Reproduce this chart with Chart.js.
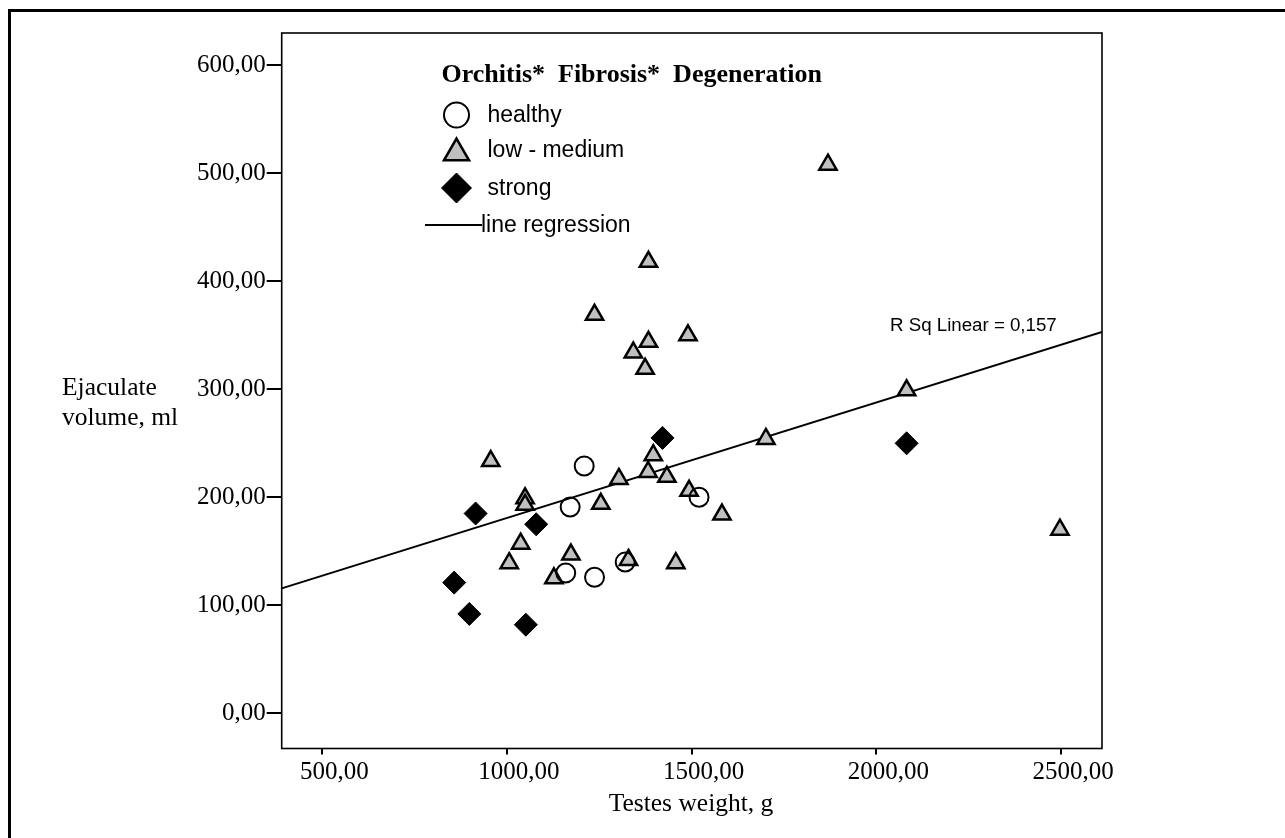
<!DOCTYPE html>
<html>
<head>
<meta charset="utf-8">
<script src="https://cdn.jsdelivr.net/npm/chart.js@4/dist/chart.umd.min.js"></script>
<style>
  html, body { margin: 0; padding: 0; background: #fff; }
  canvas { display: block; }
</style>
</head>
<body>
<canvas id="c" width="1285" height="838"></canvas>
<script>
// ---- data ----
const healthyX = [1209, 1520, 1171, 1320, 1159, 1237];
const healthyY = [229, 200, 191, 140, 130, 126];

const lowMediumX = [1869, 1383, 1490, 2082, 1701, 1396, 1237, 1383, 1342, 1374, 956, 1382, 1433, 1303, 1493, 1049, 1049, 1254, 1582, 1037, 1173, 1006, 1329, 1457, 1127, 2497];
const lowMediumY = [508, 418, 350, 299, 254, 239, 369, 344, 334, 319, 233.5, 223.5, 219, 217, 206, 199, 193, 194, 184, 157, 147, 139, 142, 139, 125, 170];

const strongX = [1421, 915, 1079, 857, 898, 1051, 2082];
const strongY = [255, 185, 175, 121, 92, 82, 250];

const regressionX = [390, 2611];
const regressionY = [115.7, 353.2];

const xTickValues = [500, 1000, 1500, 2000, 2500];
const xTickLabels = ['500,00', '1000,00', '1500,00', '2000,00', '2500,00'];
const yTickValues = [0, 100, 200, 300, 400, 500, 600];
const yTickLabels = ['0,00', '100,00', '200,00', '300,00', '400,00', '500,00', '600,00'];

const legendTitle = 'Orchitis*  Fibrosis*  Degeneration';
const legendLabels = ['healthy', 'low - medium', 'strong', 'line regression'];
const xTitle = 'Testes weight, g';
const yTitleLines = ['Ejaculate', 'volume, ml'];
const rsqLabel = 'R Sq Linear = 0,157';

const pts = (xs, ys) => xs.map((x, i) => ({ x: x, y: ys[i] }));

const SERIF = "'Liberation Serif', 'Times New Roman', serif";
const SANS = "'Liberation Sans', Arial, sans-serif";
const GRAY = '#c0c0c0';

const overlay = {
  id: 'overlay',
  beforeDraw(chart) {
    const ctx = chart.ctx;
    ctx.save();
    ctx.fillStyle = '#fff';
    ctx.fillRect(0, 0, chart.width, chart.height);
    ctx.restore();
  },
  afterDraw(chart) {
    const ctx = chart.ctx;
    const a = chart.chartArea;
    ctx.save();
    // plot frame
    ctx.strokeStyle = '#000';
    ctx.lineWidth = 1.6;
    ctx.strokeRect(a.left, a.top, a.right - a.left, a.bottom - a.top);

    // outer frame (left and top edges)
    ctx.lineWidth = 3;
    ctx.beginPath();
    ctx.moveTo(9.5, 838);
    ctx.lineTo(9.5, 10.5);
    ctx.lineTo(1285, 10.5);
    ctx.stroke();

    // axis titles
    ctx.fillStyle = '#000';
    ctx.font = '25.5px ' + SERIF;
    ctx.textAlign = 'center';
    ctx.textBaseline = 'alphabetic';
    ctx.fillText(xTitle, 691, 811);
    ctx.textAlign = 'left';
    ctx.fillText(yTitleLines[0], 62, 395);
    ctx.fillText(yTitleLines[1], 62, 425);

    // R Sq label
    ctx.font = '18.7px ' + SANS;
    ctx.textBaseline = 'middle';
    ctx.fillText(rsqLabel, 890, 326);

    // legend
    ctx.font = 'bold 26px ' + SERIF;
    ctx.textBaseline = 'alphabetic';
    ctx.fillText(legendTitle, 441.5, 82);

    const mx = 456.5;
    const rows = [115, 150, 188, 225];
    ctx.lineWidth = 2;
    ctx.strokeStyle = '#000';
    ctx.fillStyle = 'rgba(0,0,0,0)';
    Chart.helpers.drawPoint(ctx, { pointStyle: 'circle', radius: 12.5, rotation: 0, borderWidth: 2 }, mx, rows[0]);
    ctx.fillStyle = GRAY;
    ctx.lineWidth = 2.5;
    Chart.helpers.drawPoint(ctx, { pointStyle: 'triangle', radius: 14.5, rotation: 0, borderWidth: 2.5 }, mx, rows[1] + 3);
    ctx.fillStyle = '#000';
    ctx.lineWidth = 1;
    Chart.helpers.drawPoint(ctx, { pointStyle: 'rectRot', radius: 15, rotation: 0, borderWidth: 1 }, mx, rows[2]);
    ctx.lineWidth = 2;
    ctx.beginPath();
    ctx.moveTo(425, rows[3]);
    ctx.lineTo(482, rows[3]);
    ctx.stroke();

    ctx.fillStyle = '#000';
    ctx.font = '23px ' + SANS;
    ctx.textBaseline = 'middle';
    ctx.textAlign = 'left';
    ctx.fillText(legendLabels[0], 487.5, rows[0] + 1);
    ctx.fillText(legendLabels[1], 487.5, rows[1] + 1);
    ctx.fillText(legendLabels[2], 487.5, rows[2] + 1);
    ctx.fillText(legendLabels[3], 481, rows[3] + 1);
    ctx.restore();
  }
};

const ctx = document.getElementById('c').getContext('2d');
new Chart(ctx, {
  type: 'scatter',
  data: {
    datasets: [
      {
        label: legendLabels[3],
        type: 'line',
        data: pts(regressionX, regressionY),
        borderColor: '#000',
        borderWidth: 2,
        pointRadius: 0,
        fill: false,
        order: 10
      },
      {
        label: legendLabels[1],
        data: pts(lowMediumX, lowMediumY),
        pointStyle: 'triangle',
        pointRadius: 10,
        pointBackgroundColor: GRAY,
        pointBorderColor: '#000',
        pointBorderWidth: 2.5,
        order: 3
      },
      {
        label: legendLabels[0],
        data: pts(healthyX, healthyY),
        pointStyle: 'circle',
        pointRadius: 9.5,
        pointBackgroundColor: 'rgba(0,0,0,0)',
        pointBorderColor: '#000',
        pointBorderWidth: 2,
        order: 2
      },
      {
        label: legendLabels[2],
        data: pts(strongX, strongY),
        pointStyle: 'rectRot',
        pointRadius: 11.5,
        pointBackgroundColor: '#000',
        pointBorderColor: '#000',
        pointBorderWidth: 1,
        order: 1
      }
    ]
  },
  options: {
    responsive: false,
    animation: false,
    devicePixelRatio: 1,
    layout: { padding: { left: 0, top: 33, right: 183, bottom: 0 } },
    plugins: {
      legend: { display: false },
      tooltip: { enabled: false },
      title: { display: false }
    },
    scales: {
      x: {
        type: 'linear',
        min: 390,
        max: 2611,
        afterBuildTicks(s) { s.ticks = xTickValues.map(v => ({ value: v })); },
        afterFit(s) { s.height = 89.5; },
        ticks: {
          callback(v) { const i = xTickValues.indexOf(v); return i >= 0 ? xTickLabels[i] : ''; },
          color: '#000',
          font: { family: SERIF, size: 25 },
          padding: 3,
          labelOffset: 12,
          maxRotation: 0,
          autoSkip: false
        },
        grid: { drawOnChartArea: false, drawTicks: true, tickLength: 6, color: '#000', lineWidth: 2 },
        border: { display: false }
      },
      y: {
        type: 'linear',
        min: -32.6,
        max: 629.9,
        afterBuildTicks(s) { s.ticks = yTickValues.map(v => ({ value: v })); },
        afterFit(s) { s.width = 281.7; },
        ticks: {
          callback(v) { const i = yTickValues.indexOf(v); return i >= 0 ? yTickLabels[i] : ''; },
          color: '#000',
          font: { family: SERIF, size: 25 },
          padding: 1,
          autoSkip: false
        },
        grid: { drawOnChartArea: false, drawTicks: true, tickLength: 15, color: '#000', lineWidth: 2 },
        border: { display: false }
      }
    }
  },
  plugins: [overlay]
});
</script>
</body>
</html>
